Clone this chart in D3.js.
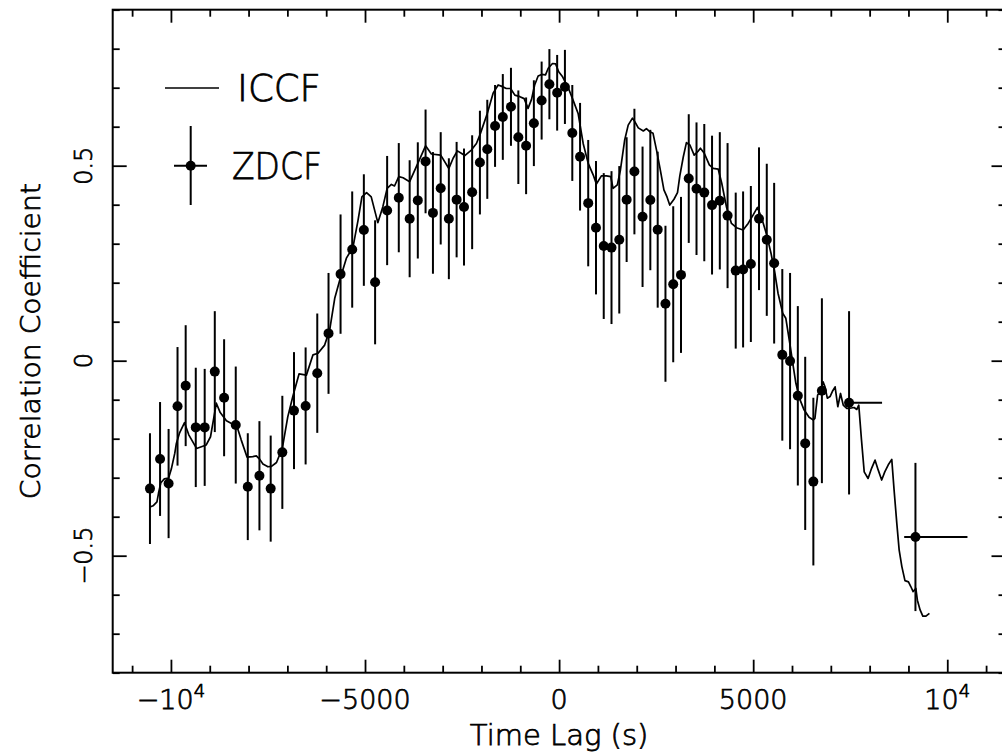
<!DOCTYPE html>
<html>
<head>
<meta charset="utf-8">
<script src="https://cdn.jsdelivr.net/npm/d3@7"></script>
<style>
  html, body { margin: 0; padding: 0; background: #fff; }
  svg { display: block; }
  text { font-family: "DejaVu Sans", "Liberation Sans", sans-serif; font-weight: 200;
         fill: #000; stroke: #000; stroke-width: 0.75; }
</style>
</head>
<body>
<svg id="chart" width="1002" height="756"></svg>
<script>
// ZDCF bins: lag (s), correlation, 1-sigma error in r, lag error below/above
const zdcfLag = [-10540, -10280, -10060, -9830, -9620, -9360, -9130, -8870, -8630, -8330,
  -8020, -7720, -7430, -7130, -6830, -6530, -6230, -5940, -5630, -5330, -5030, -4740,
  -4430, -4130, -3850, -3640, -3440, -3250, -3050, -2840, -2640, -2450, -2240, -2040,
  -1850, -1650, -1450, -1240, -1050, -850, -650, -450, -250, -50, 150, 340, 540, 750,
  950, 1150, 1350, 1550, 1740, 1940, 2150, 2350, 2540,
  2740, 2940, 3140, 3340, 3540, 3740, 3940, 4140, 4340, 4550, 4740, 4940, 5150, 5350, 5540,
  5750, 5950, 6150, 6340, 6550, 6770, 7470, 9180];
const zdcfR = [-0.328, -0.252, -0.315, -0.117, -0.064, -0.171, -0.171, -0.028, -0.095, -0.165,
  -0.323, -0.295, -0.328, -0.235, -0.128, -0.116, -0.032, 0.070, 0.222, 0.285, 0.335, 0.201,
  0.385, 0.418, 0.364, 0.411, 0.511, 0.379, 0.442, 0.364, 0.413, 0.394, 0.432, 0.508,
  0.542, 0.602, 0.625, 0.651, 0.573, 0.551, 0.609, 0.667, 0.709, 0.687, 0.702, 0.584, 0.523, 0.404,
  0.341, 0.294, 0.290, 0.310, 0.413, 0.485, 0.369, 0.412, 0.336,
  0.146, 0.196, 0.220, 0.467, 0.441, 0.431, 0.399, 0.410, 0.372, 0.231, 0.234, 0.248, 0.364, 0.310, 0.250,
  0.015, -0.001, -0.090, -0.212, -0.310, -0.077, -0.108, -0.452];
const zdcfErr = [0.142, 0.146, 0.140, 0.152, 0.155, 0.153, 0.150, 0.155, 0.150, 0.150,
  0.137, 0.140, 0.136, 0.145, 0.150, 0.150, 0.153, 0.155, 0.153, 0.149, 0.143, 0.159,
  0.140, 0.140, 0.150, 0.149, 0.133, 0.156, 0.144, 0.155, 0.148, 0.150, 0.146, 0.133,
  0.127, 0.105, 0.110, 0.100, 0.120, 0.124, 0.110, 0.100, 0.090, 0.097, 0.095, 0.123, 0.138, 0.162,
  0.171, 0.187, 0.196, 0.189, 0.160, 0.161, 0.180, 0.180, 0.200,
  0.200, 0.200, 0.200, 0.165, 0.170, 0.176, 0.178, 0.176, 0.186, 0.200, 0.200, 0.200, 0.183, 0.195, 0.206,
  0.220, 0.226, 0.230, 0.222, 0.215, 0.237, 0.235, 0.190];
const zdcfLagErrLo = zdcfLag.map((d, i) => [0, 0, 100, 290][Math.max(0, i - 76)] || 0);
const zdcfLagErrHi = zdcfLag.map((d, i) => [0, 0, 850, 1340][Math.max(0, i - 76)] || 0);

// Interpolated cross-correlation function
const iccfLag = [-10540, -10460, -10360, -10320, -10260, -10170, -10060, -9990, -9900, -9860,
  -9780, -9650, -9540, -9340, -9090, -8980, -8830, -8730, -8570, -8440, -8310, -8190, -8040,
  -7890, -7800, -7710, -7630, -7500, -7410, -7280, -7130, -6990, -6860, -6700, -6510, -6340,
  -6210, -6040, -5910, -5780, -5650, -5480, -5310, -5180, -5080, -4960, -4840, -4670, -4540,
  -4430, -4320, -4240, -4130, -4020, -3850, -3680, -3440, -3290, -3050, -2840, -2730, -2620,
  -2520, -2430, -2260, -2130, -2040, -1850, -1700, -1570, -1490, -1360, -1250, -1140, -1010,
  -900, -800, -710, -630, -540, -450, -350, -280, -170, -90, -10, 90, 230, 360, 490, 620, 750,
  880, 960, 1090, 1220, 1330, 1390, 1500, 1580, 1690, 1780, 1890, 1950, 2040, 2170, 2250, 2340,
  2420, 2510, 2600, 2700, 2780, 2850, 2960, 3050, 3110, 3200, 3280, 3370, 3480, 3570, 3640,
  3740, 3870, 3970, 4100, 4190, 4310, 4440, 4570, 4740, 4870, 5000, 5110, 5220, 5350, 5460,
  5560, 5640, 5760, 5840, 5950, 6020, 6100, 6190, 6310, 6440, 6550, 6590, 6660, 6740, 6800,
  6850, 6910, 6980, 7050, 7110, 7180, 7250, 7320, 7410, 7490, 7600, 7670, 7720, 7790, 7860,
  7960, 8050, 8140, 8220, 8310, 8390, 8480, 8570, 8630, 8700, 8760, 8830, 8910, 9000, 9060,
  9120, 9190, 9230, 9300, 9370, 9450, 9540];
const iccfR = [-0.375, -0.372, -0.362, -0.340, -0.313, -0.303, -0.301, -0.278, -0.237, -0.212,
  -0.186, -0.159, -0.190, -0.225, -0.216, -0.195, -0.109, -0.133, -0.154, -0.161, -0.165, -0.203, -0.247,
  -0.246, -0.244, -0.253, -0.265, -0.272, -0.271, -0.261, -0.224, -0.144, -0.092, -0.034, -0.037, 0.015,
  0.019, 0.040, 0.079, 0.160, 0.207, 0.263, 0.291, 0.360, 0.420, 0.431, 0.420, 0.354, 0.395,
  0.442, 0.452, 0.448, 0.472, 0.469, 0.459, 0.497, 0.551, 0.530, 0.527, 0.493, 0.519, 0.538,
  0.532, 0.526, 0.540, 0.557, 0.579, 0.634, 0.686, 0.707, 0.704, 0.698, 0.698, 0.681, 0.677,
  0.672, 0.647, 0.670, 0.707, 0.730, 0.734, 0.733, 0.750, 0.762, 0.761, 0.741, 0.728, 0.701, 0.668, 0.634, 0.557, 0.506,
  0.476, 0.453, 0.474, 0.474, 0.472, 0.442, 0.451, 0.489, 0.566, 0.604, 0.622, 0.613, 0.597, 0.589, 0.595, 0.587,
  0.583, 0.540, 0.493, 0.438, 0.420, 0.399, 0.414, 0.431, 0.474, 0.523, 0.559, 0.553, 0.527, 0.536, 0.545,
  0.532, 0.502, 0.493, 0.491, 0.455, 0.395, 0.352, 0.341, 0.335, 0.352, 0.374, 0.393, 0.365, 0.322, 0.275,
  0.224, 0.173, 0.122, 0.109, 0.040, -0.007, -0.058, -0.096, -0.126, -0.145, -0.152, -0.148, -0.088, -0.079, -0.054,
  -0.067, -0.096, -0.092, -0.077, -0.067, -0.118, -0.084, -0.114, -0.122, -0.122, -0.120, -0.125, -0.114, -0.203, -0.285,
  -0.302, -0.276, -0.255, -0.280, -0.306, -0.285, -0.267, -0.253, -0.332, -0.417, -0.485, -0.528, -0.564, -0.567, -0.579,
  -0.592, -0.584, -0.614, -0.639, -0.655, -0.655, -0.648];

// Axis ticks and labels
const xMajorTicks = [-10000, -5000, 0, 5000, 10000];
const xTickBase = ["\u221210", "\u22125000", "0", "5000", "10"];
const xTickExp = ["4", "", "", "", "4"];
const yMajorTicks = [-0.5, 0, 0.5];
const yTickLabels = ["\u22120.5", "0", "0.5"];
const legendLabels = ["ICCF", "ZDCF"];
const xTitle = "Time Lag (s)";
const yTitle = "Correlation Coefficient";

const svg = d3.select("#chart");
const L = 112.7, R = 1005.5, T = 9.7, B = 672.7;
const x = d3.scaleLinear().domain([-11500, 11500]).range([L, R]);
const y = d3.scaleLinear().domain([-0.8, 0.9]).range([B, T]);

const xMinor = d3.range(-11000, 11001, 1000).filter(v => v % 5000 !== 0);
const yMinor = d3.range(-8, 10).map(v => v / 10).filter(v => Math.abs(v * 10) % 5 !== 0);

// Frame with inward-pointing ticks on all four sides
function tickAxis(gen, scale, vals, size, tx, ty) {
  const g = svg.append("g").attr("transform", `translate(${tx},${ty})`)
    .call(gen(scale).tickValues(vals).tickSize(size).tickSizeOuter(0).tickFormat(""));
  g.select(".domain").remove();
  g.selectAll(".tick line").attr("stroke", "#000").attr("stroke-width", 1.8);
}
tickAxis(d3.axisBottom, x, xMajorTicks, -13, 0, B);
tickAxis(d3.axisBottom, x, xMinor, -7, 0, B);
tickAxis(d3.axisTop, x, xMajorTicks, -13, 0, T);
tickAxis(d3.axisTop, x, xMinor, -7, 0, T);
tickAxis(d3.axisLeft, y, yMajorTicks, -14, L, 0);
tickAxis(d3.axisLeft, y, yMinor, -7, L, 0);
tickAxis(d3.axisRight, y, yMajorTicks, -14, R, 0);
tickAxis(d3.axisRight, y, yMinor, -7, R, 0);

svg.append("rect").attr("x", L).attr("y", T).attr("width", R - L).attr("height", B - T)
  .attr("fill", "none").attr("stroke", "#000").attr("stroke-width", 2);

// X tick labels (with exponent for the 10^4 ticks)
xMajorTicks.forEach((v, i) => {
  const t = svg.append("text").attr("x", x(v)).attr("y", 709)
    .attr("text-anchor", "middle").attr("font-size", 27);
  t.append("tspan").text(xTickBase[i]);
  if (xTickExp[i]) {
    t.append("tspan").attr("dy", -12).attr("font-size", 18).text(xTickExp[i]);
  }
});

// Y tick labels, rotated
yMajorTicks.forEach((v, i) => {
  svg.append("text")
    .attr("transform", `translate(92,${y(v)}) rotate(-90)`)
    .attr("text-anchor", "middle").attr("font-size", 24)
    .text(yTickLabels[i]);
});

// Axis titles
svg.append("text").attr("x", (L + R) / 2).attr("y", 745)
  .attr("text-anchor", "middle").attr("font-size", 29).text(xTitle);
svg.append("text")
  .attr("transform", `translate(40,${(T + B) / 2}) rotate(-90)`)
  .attr("text-anchor", "middle").attr("font-size", 27)
  .attr("textLength", 316).attr("lengthAdjust", "spacingAndGlyphs").text(yTitle);

// ICCF curve
const line = d3.line().x((d, i) => x(iccfLag[i])).y((d, i) => y(iccfR[i]));
svg.append("path").datum(iccfLag).attr("d", line)
  .attr("fill", "none").attr("stroke", "#000").attr("stroke-width", 1.7)
  .attr("stroke-linejoin", "round");

// ZDCF points with error bars
const zg = svg.append("g");
const idx = d3.range(zdcfLag.length);
zg.selectAll("line.ey").data(idx).join("line").attr("class", "ey")
  .attr("x1", i => x(zdcfLag[i])).attr("x2", i => x(zdcfLag[i]))
  .attr("y1", i => y(zdcfR[i] + zdcfErr[i])).attr("y2", i => y(zdcfR[i] - zdcfErr[i]))
  .attr("stroke", "#000").attr("stroke-width", 2);
zg.selectAll("line.ex").data(idx.filter(i => zdcfLagErrLo[i] + zdcfLagErrHi[i] > 0)).join("line")
  .attr("class", "ex")
  .attr("x1", i => x(zdcfLag[i] - zdcfLagErrLo[i])).attr("x2", i => x(zdcfLag[i] + zdcfLagErrHi[i]))
  .attr("y1", i => y(zdcfR[i])).attr("y2", i => y(zdcfR[i]))
  .attr("stroke", "#000").attr("stroke-width", 2);
zg.selectAll("circle").data(idx).join("circle")
  .attr("cx", i => x(zdcfLag[i])).attr("cy", i => y(zdcfR[i])).attr("r", 5)
  .attr("fill", "#000");

// Legend
const lg = svg.append("g");
lg.append("line").attr("x1", 165).attr("x2", 219).attr("y1", 88).attr("y2", 88)
  .attr("stroke", "#000").attr("stroke-width", 1.7);
lg.append("text").attr("x", 237).attr("y", 101).attr("font-size", 37).text(legendLabels[0]);
lg.append("line").attr("x1", 190.7).attr("x2", 190.7).attr("y1", 126).attr("y2", 205)
  .attr("stroke", "#000").attr("stroke-width", 2);
lg.append("line").attr("x1", 174).attr("x2", 207).attr("y1", 165.7).attr("y2", 165.7)
  .attr("stroke", "#000").attr("stroke-width", 2);
lg.append("circle").attr("cx", 190.7).attr("cy", 165.7).attr("r", 5).attr("fill", "#000");
lg.append("text").attr("x", 232).attr("y", 179).attr("font-size", 37)
  .attr("textLength", 90).attr("lengthAdjust", "spacingAndGlyphs").text(legendLabels[1]);
</script>
</body>
</html>
